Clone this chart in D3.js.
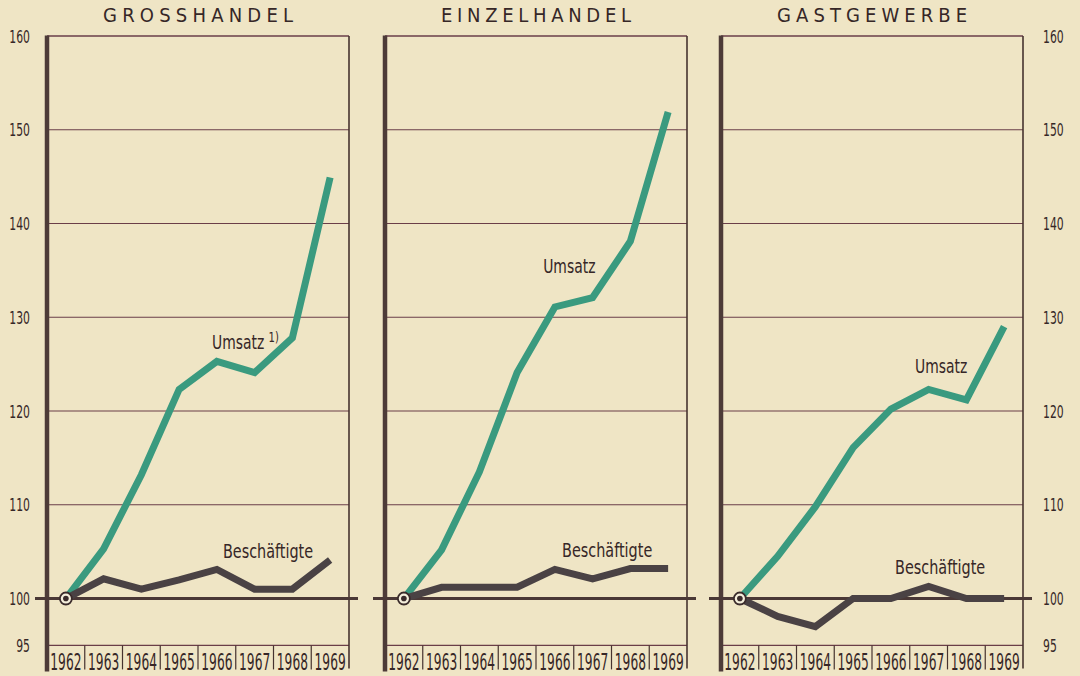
<!DOCTYPE html>
<html>
<head>
<meta charset="utf-8">
<script src="https://cdn.jsdelivr.net/npm/d3@7"></script>
<style>
  body { margin: 0; background: #efe5c5; }
  svg { display: block; }
  text { font-family: "DejaVu Sans Condensed", "Liberation Sans Narrow", sans-serif; fill: #362727; }
</style>
</head>
<body>
<svg width="1080" height="676"></svg>
<script>
// data (index, 1962 = 100)
var years = [1962, 1963, 1964, 1965, 1966, 1967, 1968, 1969];
var tickValues = [95, 100, 110, 120, 130, 140, 150, 160];
var gridValues = [110, 120, 130, 140, 150];
var titles = ["GROSSHANDEL", "EINZELHANDEL", "GASTGEWERBE"];

var grossUmsatz = [100, 105.3, 113.2, 122.3, 125.3, 124.1, 127.8, 144.9];
var grossBesch = [100, 102.1, 101.0, 102.0, 103.1, 101.0, 101.0, 104.1];
var einzelUmsatz = [100, 105.2, 113.5, 124.1, 131.1, 132.1, 138.1, 151.9];
var einzelBesch = [100, 101.2, 101.2, 101.2, 103.1, 102.1, 103.2, 103.2];
var gastUmsatz = [100, 104.5, 109.8, 116.1, 120.2, 122.3, 121.2, 129.0];
var gastBesch = [100, 98.1, 97.0, 100, 100, 101.3, 100, 100];

// label anchors in data units [year, value]
var umsatzLabels = [[1965.87, 126.6], [1965.69, 134.7], [1966.64, 124.1]];
var beschLabels = [[1966.16, 104.3], [1966.19, 104.4], [1966.11, 102.6]];

var panels = [
  {title: titles[0], umsatz: grossUmsatz, besch: grossBesch, left: 47, note: true},
  {title: titles[1], umsatz: einzelUmsatz, besch: einzelBesch, left: 385},
  {title: titles[2], umsatz: gastUmsatz, besch: gastBesch, left: 721}
];

var svg = d3.select("svg"),
    panelW = 302,
    green = "#3a9a7f",
    dark = "#4a4244",
    frame = "#46332f",
    gridCol = "#6a3e48";

var y = d3.scaleLinear().domain([95, 160]).range([645.4, 36]);
var cellBottom = y(95) + 25;

// condensed, tall text like the printed original
function label(sel, x, yy, str, size, sx, sy, anchor) {
  return sel.append("text")
      .attr("transform", "translate(" + x + "," + yy + ") scale(" + sx + "," + sy + ")")
      .attr("font-size", size)
      .attr("text-anchor", anchor || "start")
      .text(str);
}

panels.forEach(function(p, i) {
  var x = d3.scaleLinear().domain([1961.5, 1969.5]).range([p.left, p.left + panelW]);
  var g = svg.append("g");

  g.append("text")
      .attr("x", x(1965.5)).attr("y", 22)
      .attr("text-anchor", "middle")
      .attr("font-size", 20)
      .attr("textLength", 190).attr("lengthAdjust", "spacing")
      .text(p.title);

  // grid
  g.selectAll(".grid").data(gridValues).enter().append("line")
      .attr("x1", x(1961.5)).attr("x2", x(1969.5))
      .attr("y1", d => y(d)).attr("y2", d => y(d))
      .attr("stroke", gridCol).attr("stroke-width", 1.2);

  // top and bottom frame
  [160, 95].forEach(function(v) {
    g.append("line")
        .attr("x1", x(1961.5)).attr("x2", x(1969.5))
        .attr("y1", y(v)).attr("y2", y(v))
        .attr("stroke", gridCol).attr("stroke-width", 1.3);
  });

  // year cells
  var bounds = d3.range(1962.5, 1969.5, 1);
  g.selectAll(".sep").data(bounds).enter().append("line")
      .attr("x1", d => x(d)).attr("x2", d => x(d))
      .attr("y1", y(95)).attr("y2", cellBottom - 1)
      .attr("stroke", frame).attr("stroke-width", 1.2);

  years.forEach(function(yr) {
    label(g, x(yr), 670, yr, 17, 0.8, 1.4, "middle");
  });

  // right frame (thin) and left frame (thick)
  g.append("line")
      .attr("x1", x(1969.5)).attr("x2", x(1969.5))
      .attr("y1", y(160)).attr("y2", cellBottom - 2)
      .attr("stroke", frame).attr("stroke-width", 1.6);
  g.append("line")
      .attr("x1", x(1961.5)).attr("x2", x(1961.5))
      .attr("y1", y(160) - 0.5).attr("y2", cellBottom + 1)
      .attr("stroke", "#4d3b38").attr("stroke-width", 4.5);

  // 100 baseline, extends past the frame
  g.append("line")
      .attr("x1", x(1961.5) - 12).attr("x2", x(1969.5) + 9)
      .attr("y1", y(100)).attr("y2", y(100))
      .attr("stroke", "#4a3836").attr("stroke-width", 3);

  var line = d3.line()
      .x(function(d, j) { return x(years[j]); })
      .y(function(d) { return y(d); });

  g.append("path").datum(p.umsatz)
      .attr("d", line)
      .attr("fill", "none").attr("stroke", green)
      .attr("stroke-width", 7).attr("stroke-linejoin", "miter");

  g.append("path").datum(p.besch)
      .attr("d", line)
      .attr("fill", "none").attr("stroke", dark)
      .attr("stroke-width", 7).attr("stroke-linejoin", "miter");

  // base year marker
  g.append("circle")
      .attr("cx", x(years[0])).attr("cy", y(p.umsatz[0])).attr("r", 6)
      .attr("fill", "#f5efdc").attr("stroke", "#3a2b2b").attr("stroke-width", 1.8);
  g.append("circle")
      .attr("cx", x(years[0])).attr("cy", y(p.umsatz[0])).attr("r", 2.8)
      .attr("fill", "#3a2b2b");

  var ul = umsatzLabels[i], bl = beschLabels[i];
  var ut = label(g, x(ul[0]), y(ul[1]), "Umsatz", 18, 0.86, 1.08);
  if (p.note) {
    ut.append("tspan").attr("dx", 5).attr("dy", -7).attr("font-size", 13).text("1)");
  }
  label(g, x(bl[0]), y(bl[1]), "Beschäftigte", 18, 0.89, 1.08);
});

// tick labels on both sides
tickValues.forEach(function(v) {
  label(svg, 30, y(v) + 6.5, v, 14, 0.86, 1.3, "end");
  label(svg, 1043, y(v) + 6.5, v, 14, 0.86, 1.3, "start");
});
</script>
</body>
</html>
